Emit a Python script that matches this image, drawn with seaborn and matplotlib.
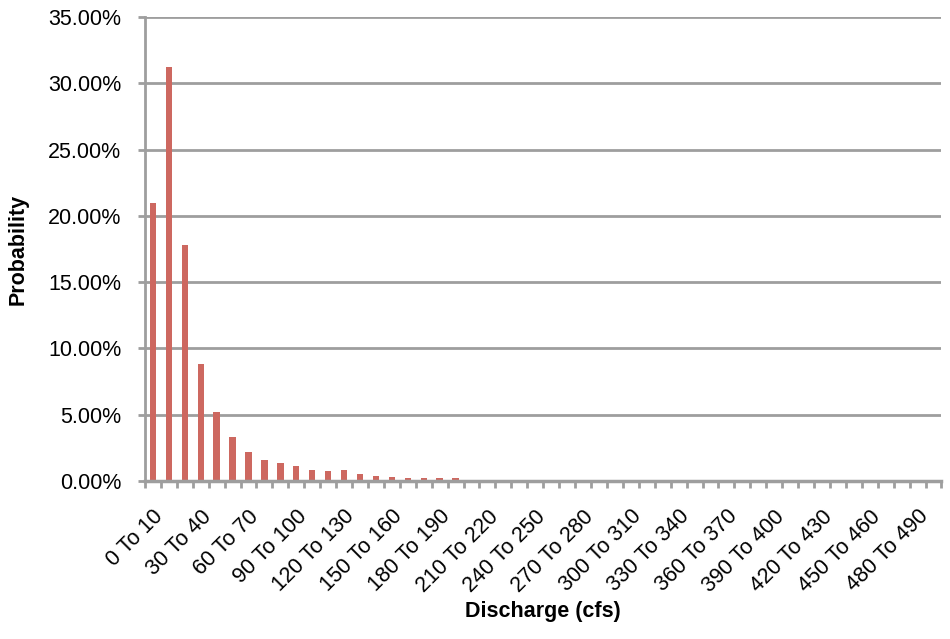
import matplotlib
matplotlib.use("Agg")
import matplotlib.pyplot as plt
from matplotlib.ticker import FuncFormatter, FixedLocator
import seaborn as sns
import pandas as pd

# Discharge bins (cfs) and the probability of each bin, in percent
bin_starts = list(range(0, 500, 10))
bin_labels = [f"{lo} To {lo + 10}" for lo in bin_starts]
probability = [
    21.0, 31.2, 17.8, 8.8, 5.2, 3.3, 2.2, 1.6, 1.35, 1.15,
    0.85, 0.75, 0.85, 0.55, 0.4, 0.3, 0.2, 0.22, 0.2, 0.2,
    0.1, 0.05, 0.1, 0.05, 0.05, 0.05, 0.05, 0.02, 0.02, 0.02,
    0.02, 0.02, 0.02, 0.02, 0.02, 0.02, 0.0, 0.0, 0.0, 0.0,
    0.0, 0.0, 0.0, 0.02, 0.0, 0.02, 0.0, 0.0, 0.0, 0.0,
]
y_ticks = [0, 5, 10, 15, 20, 25, 30, 35]

df = pd.DataFrame({"bin": bin_labels, "prob": probability})

sns.set_theme(style="white")
plt.rcParams["font.family"] = ["Liberation Sans", "DejaVu Sans"]

GRID = "#9e9e9e"
BAR = "#cd6860"
FS = 15.5

fig = plt.figure(figsize=(9.5, 6.39), dpi=100)
ax = fig.add_axes([0.1526, 0.2473, 0.991 - 0.1526, 0.9734 - 0.2473])

sns.barplot(data=df, x="bin", y="prob", color=BAR, saturation=1,
            width=0.4, linewidth=0, edgecolor=BAR, ax=ax, zorder=3)

n = len(bin_labels)
ax.set_xlim(-0.5, n - 0.5)
ax.set_ylim(0, 35)

# horizontal gridlines
ax.set_yticks(y_ticks)
ax.yaxis.set_major_formatter(FuncFormatter(lambda v, p: f"{v:.2f}%"))
ax.grid(axis="y", color=GRID, linewidth=2, zorder=0)
ax.grid(axis="x", visible=False)
ax.set_axisbelow(True)

# category labels every third bin, tick marks on bin boundaries
ax.xaxis.set_major_locator(FixedLocator(list(range(0, n, 3))))
ax.set_xticklabels([bin_labels[i] for i in range(0, n, 3)])
ax.xaxis.set_minor_locator(FixedLocator([i - 0.5 for i in range(n + 1)]))
ax.tick_params(axis="x", which="major", length=0, pad=18, labelsize=FS,
               labelcolor="black")
ax.tick_params(axis="x", which="minor", bottom=True, length=5, width=2,
               color=GRID, direction="out")
ax.tick_params(axis="y", which="major", left=True, length=5, width=2,
               color=GRID, direction="out", pad=12, labelsize=FS,
               labelcolor="black")
for lbl in ax.get_xticklabels():
    lbl.set_rotation(45)
    lbl.set_ha("right")
    lbl.set_va("top")
    lbl.set_rotation_mode("anchor")

for side in ("top", "right"):
    ax.spines[side].set_visible(False)
ax.spines["left"].set_color(GRID)
ax.spines["left"].set_linewidth(2)
ax.spines["bottom"].set_color(GRID)
ax.spines["bottom"].set_linewidth(2.5)
ax.spines["bottom"].set_zorder(4)

ax.set_xlabel("Discharge (cfs)", fontsize=FS, fontweight="bold",
              color="black")
ax.set_ylabel("Probability", fontsize=FS, fontweight="bold", color="black")
ax.xaxis.set_label_coords(0.5, -0.258)
ax.yaxis.set_label_coords(-0.146, 0.5)

fig.savefig("out.png", dpi=100, facecolor="white")
